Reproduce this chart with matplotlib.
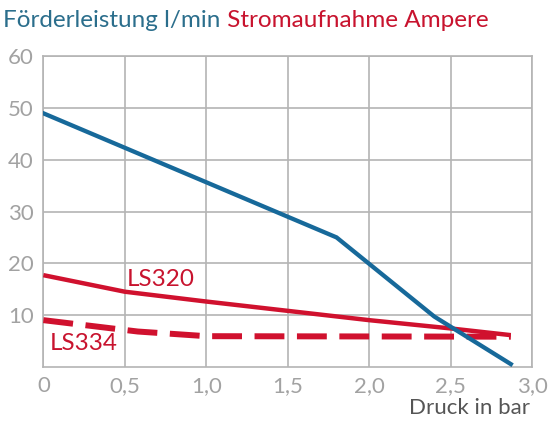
import matplotlib
matplotlib.use("Agg")
import matplotlib.pyplot as plt
from matplotlib import font_manager

# ---- data ----
pressure_flow = [0.0, 1.8, 2.4, 2.87]
flow_lpm = [49.0, 25.0, 9.7, 0.5]

pressure_ls320 = [0.0, 0.5, 1.0, 1.5, 2.0, 2.5, 2.87]
current_ls320 = [17.7, 14.5, 12.6, 10.8, 9.0, 7.4, 6.1]

pressure_ls334 = [0.0, 0.58, 1.0, 2.87]
current_ls334 = [9.0, 6.8, 5.9, 5.8]

x_ticks = [0, 0.5, 1.0, 1.5, 2.0, 2.5, 3.0]
x_labels = ["0", "0,5", "1,0", "1,5", "2,0", "2,5", "3,0"]
y_ticks = [10, 20, 30, 40, 50, 60]
y_labels = ["10", "20", "30", "40", "50", "60"]

BLUE = "#17699a"
RED = "#d0112e"
BLUE_TXT = "#2b6e8c"
RED_TXT = "#c8132e"
GRID = "#b4b4b4"
TICK = "#a2a2a2"

avail = {f.name for f in font_manager.fontManager.ttflist}
FAM = [f for f in ["Liberation Sans Narrow", "Lato", "DejaVu Sans"] if f in avail]

fig = plt.figure(figsize=(5.49, 4.21), dpi=100)
ax = fig.add_axes([0.079, 0.129, 0.89, 0.737])

ax.plot(pressure_flow, flow_lpm, color=BLUE, lw=3.1, solid_joinstyle="miter", zorder=4)
ax.plot(pressure_ls320, current_ls320, color=RED, lw=3.2, solid_capstyle="butt", zorder=3)
ax.plot(pressure_ls334, current_ls334, color=RED, lw=4.3, dashes=(5, 2.1), zorder=3)

ax.set_xlim(0, 3.0)
ax.set_ylim(0, 60)
ax.set_xticks(x_ticks)
ax.set_xticklabels(x_labels, family=FAM, fontsize=16, color=TICK)
ax.set_yticks(y_ticks)
ax.set_yticklabels(y_labels, family=FAM, fontsize=16, color=TICK)
ax.tick_params(length=0, pad=7)
ax.grid(True, color=GRID, lw=1.2)
for s in ax.spines.values():
    s.set_color(GRID)
    s.set_linewidth(1.2)

ax.text(0.72, 16.8, "LS320", color=RED_TXT, fontsize=17.5, family=FAM, ha="center", va="center")
ax.text(0.245, 4.4, "LS334", color=RED_TXT, fontsize=17.5, family=FAM, ha="center", va="center")

fig.text(0.966, 0.008, "Druck in bar", color="#555555", fontsize=16, family=FAM, ha="right", va="bottom")

t1 = fig.text(0.006, 0.937, "Förderleistung l/min", color=BLUE_TXT, fontsize=17.5, family=FAM,
              ha="left", va="baseline")
ax.annotate(" Stromaufnahme Ampere", xy=(1, 0), xycoords=t1, color=RED_TXT, fontsize=17.5,
            family=FAM, ha="left", va="bottom", annotation_clip=False)

fig.savefig("out.png", dpi=100)
